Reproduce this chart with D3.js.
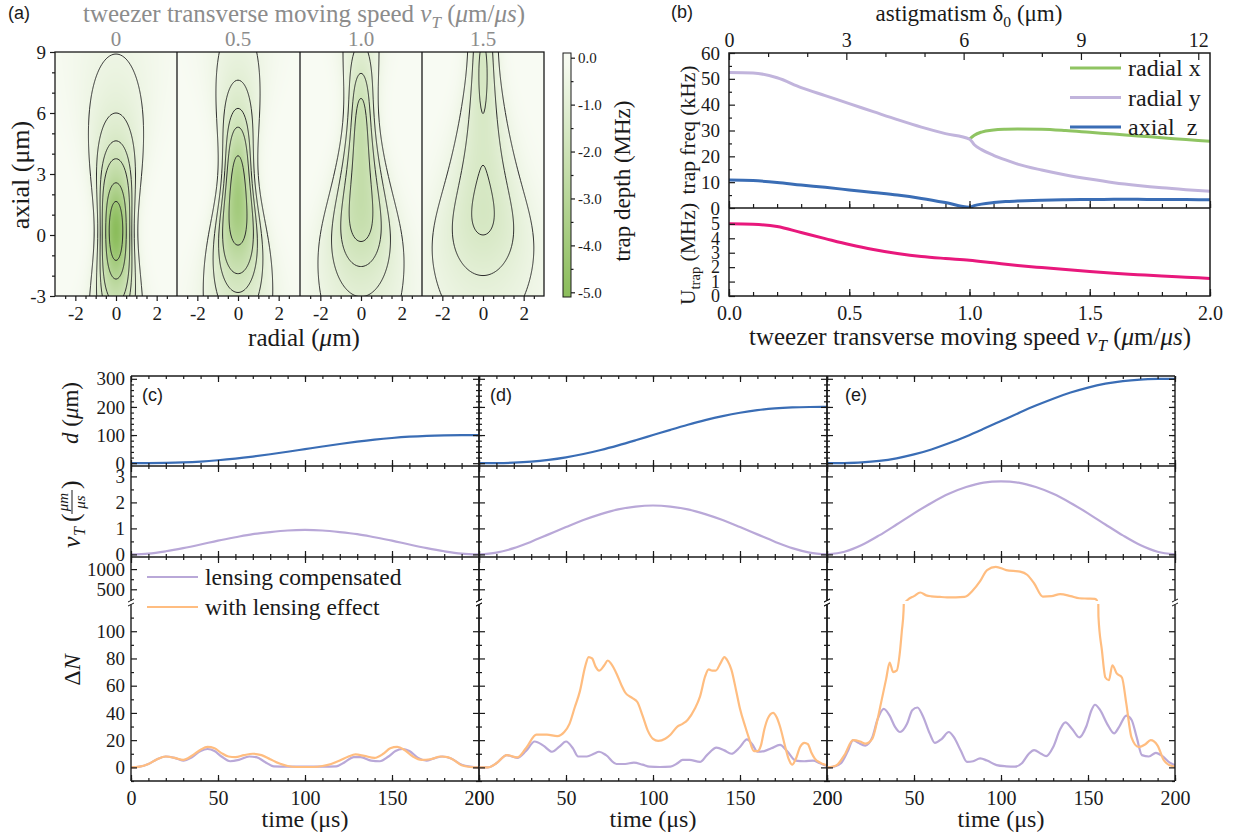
<!DOCTYPE html>
<html>
<head>
<meta charset="utf-8">
<title>moving tweezer trap</title>
<script src="https://cdn.jsdelivr.net/npm/d3@7/dist/d3.min.js"></script>
<style>
  body { margin: 0; background: #fff; }
  svg { display: block; }
</style>
</head>
<body>
<svg id="fig" width="1242" height="837"></svg>
<script>
// ---------------- data ----------------
// (a) trap depth maps, one per tweezer speed
const speedLabels = ["0", "0.5", "1.0", "1.5"];
const astigmatism = [0, 3, 6, 9];          // focus separation (um)
const lowerFocus = [0.2, 0.2, 0.2, 0.2];   // z of lower focus (um)
const peakDepth = 5.0;                      // MHz
const waist = 1.0, rayleigh = 2.9;          // um
const contourLevels = [0.5, 1, 1.5, 2, 3, 4];
const depthTicks = [0, -1, -2, -3, -4, -5];

// (b) trap frequencies and depth vs speed
const vB = [0, .1, .2, .3, .4, .5, .6, .7, .8, .9, 1.0, 1.02, 1.05, 1.1, 1.15, 1.2, 1.3, 1.4, 1.5, 1.6, 1.7, 1.8, 1.9, 2.0];
const radialY = [52.5, 52.3, 50.4, 46.6, 43.5, 40.4, 37.3, 34.2, 31.3, 28.8, 26.7, 24.5, 22.6, 20.4, 18.6, 17.0, 14.7, 12.8, 11.2, 9.8, 8.7, 7.8, 7.1, 6.5];
const axialZ = [10.8, 10.6, 9.9, 8.9, 8.0, 7.0, 6.0, 5.0, 3.7, 2.1, 0.3, 0.9, 1.5, 2.1, 2.5, 2.7, 3.0, 3.2, 3.3, 3.35, 3.35, 3.3, 3.25, 3.2];
const vSplit = [1.0, 1.02, 1.05, 1.1, 1.15, 1.2, 1.3, 1.4, 1.5, 1.6, 1.7, 1.8, 1.9, 2.0];
const radialX = [26.7, 28.2, 29.4, 30.2, 30.5, 30.6, 30.5, 30.0, 29.3, 28.6, 27.9, 27.2, 26.5, 25.8];
const vU = [0, .1, .2, .3, .4, .5, .6, .7, .8, .9, 1.0, 1.1, 1.2, 1.3, 1.4, 1.5, 1.6, 1.7, 1.8, 1.9, 2.0];
const uTrap = [5.0, 4.97, 4.82, 4.4, 3.98, 3.57, 3.22, 2.95, 2.74, 2.6, 2.48, 2.3, 2.12, 1.97, 1.83, 1.7, 1.58, 1.48, 1.38, 1.3, 1.22];

// (c)-(e) transport: time grid, displacement, speed
const tMove = [0, 10, 20, 30, 40, 50, 60, 70, 80, 90, 100, 110, 120, 130, 140, 150, 160, 170, 180, 190, 200];
const dispC = [0, 0.1, 0.9, 2.7, 5.8, 10.4, 16.3, 23.5, 31.7, 40.7, 50, 59.3, 68.3, 76.5, 83.7, 89.6, 94.2, 97.3, 99.1, 99.9, 100];
const dispD = [0, 0.2, 1.7, 5.3, 11.6, 20.7, 32.6, 47.0, 63.5, 81.4, 100, 118.6, 136.5, 153.0, 167.4, 179.3, 188.4, 194.7, 198.3, 199.8, 200];
const dispE = [0, 0.3, 2.6, 8.0, 17.4, 31.1, 48.9, 70.6, 95.2, 122.1, 150, 177.9, 204.8, 229.4, 251.1, 268.9, 282.6, 292.0, 297.4, 299.7, 300];
const speedC = [0, 0.03, 0.12, 0.24, 0.38, 0.53, 0.66, 0.78, 0.86, 0.92, 0.94, 0.92, 0.86, 0.78, 0.66, 0.53, 0.38, 0.24, 0.12, 0.03, 0];
const speedD = [0, 0.07, 0.24, 0.49, 0.77, 1.05, 1.32, 1.55, 1.73, 1.84, 1.88, 1.84, 1.73, 1.55, 1.32, 1.05, 0.77, 0.49, 0.24, 0.07, 0];
const speedE = [0, 0.10, 0.36, 0.73, 1.15, 1.58, 1.98, 2.33, 2.59, 2.76, 2.81, 2.76, 2.59, 2.33, 1.98, 1.58, 1.15, 0.73, 0.36, 0.10, 0];

// heating dN: [time, value]
const compC = [[0,0],[5,0.5],[10,2.5],[15,6],[20,8],[25,7],[30,5],[35,7.5],[40,12],[44,13.5],[48,12],[52,8],[57,4.5],[62,5.5],[68,8],[72,7.5],[77,4],[82,0.8],[90,0.5],[100,0.5],[110,0.5],[118,0.8],[123,4],[128,7.5],[132,7.5],[138,5],[143,4.5],[148,8],[152,12],[156,13.5],[160,12],[165,7],[170,5],[175,7],[179,8],[184,6.5],[190,2],[195,0.5],[200,0]];
const lensC = [[0,0],[5,0.5],[10,2.5],[15,6],[20,8],[25,7],[30,5.5],[35,8.5],[40,13],[44,15],[48,14],[52,10.5],[56,8],[60,7.5],[65,9],[70,10],[75,9],[80,6],[85,3],[90,1],[95,0.3],[100,0.3],[105,0.3],[110,1],[115,2.5],[120,5],[125,8],[129,9.5],[134,8.5],[140,7],[145,10],[149,14],[153,15],[157,13],[162,8],[167,5.5],[172,6],[178,8],[182,7.5],[186,5],[190,1.5],[195,0.3],[200,0]];
const compD = [[0,0],[5,0],[10,3],[16,9],[22,7],[27,12],[32,19],[37,16],[42,11.5],[46,15],[50,19],[54,14],[57,8],[62,8],[66,10],[69,11.5],[73,9],[79,2.5],[84,2.5],[89,3.5],[94,2],[98,0.5],[104,0.3],[110,0.5],[114,3],[117,5.5],[121,5.5],[127,4],[131,9],[136.5,14.5],[141,12.5],[145,10],[150,15],[154,20.5],[157,17],[160,11.5],[164,12],[168,14],[173,16.5],[177,12],[182,5],[187,4.5],[192,5],[196,3],[200,1]];
const lensD = [[0,0],[5,0],[10,3],[16,9],[22,7.3],[27,14],[33,24],[39,24],[45,23],[49,26],[52,32],[55,44],[58,56],[61,74],[63,81],[65,80],[67,74],[69,71],[72,75],[74,78.5],[76,76],[79,69],[82,60],[84,55],[88,51],[91,48],[94,38],[97,27],[100,21],[103,19.5],[107,21],[110,24],[114,30],[117,32],[120,35],[124,43],[127,52],[130,67],[132,72],[134,71],[136,71],[139,77],[141,81],[143,78],[145,72],[148,55],[150,43],[153,30],[155,22],[158,12],[160,12],[162,16],[164,28],[166,36],[169,40],[171,37],[173,30],[176,15],[178,6],[180,2],[182,6],[184.5,15],[187,18],[189,17],[191,11],[193,6.5],[196,3.5],[200,1.5]];
const compE = [[0,0],[4,0.5],[8,3],[12,12],[15,20],[18,18],[22,16],[26,22],[29,35],[32.6,43],[36,38],[39,30],[42,26],[46,32],[49,42],[52,44],[55,38],[59,25],[62,18],[66,21],[70,26],[73,22],[77,12],[80.5,4],[84,4.5],[88,6.6],[92,5],[97.5,1.7],[103,0.8],[108,0.5],[112,3],[116,10],[119,12.7],[123,10],[126,8.3],[130,15],[134,28],[137,33],[141,28],[145,22],[149,30],[152,42],[154,46],[157,42],[161,32],[165,25],[168,30],[172,38],[175,35],[178,22],[181,9],[185,8],[189,10.7],[193,8],[197,3.5],[200,1.7]];
const lensE = [[0,0],[3,0.5],[6,2],[10,9],[15,20],[19,19],[22,17.5],[26,21],[29,35],[31,47],[34,65],[36,77],[38,70],[40,71],[42,86],[43,100],[44,115],[45,180],[47,262],[50,330],[53.6,421],[57,350],[60,325],[65,310],[69,302],[74,300],[79,310],[84,480],[88,700],[92,976],[97,1056],[103,976],[111,937],[115,860],[119,650],[124,320],[129,330],[134,381],[140,330],[145,278],[150,270],[154,262],[155,230],[156,111],[158,86],[160,66],[162,64],[164,75],[166.5,69],[169.5,66],[172,47],[175,22],[179,15],[183,17],[186,20],[190,16],[193.5,5.4],[197,1.5],[200,0.5]];

// ---------------- helpers ----------------
const serif = '"Liberation Serif","Times New Roman",serif';
const sans = '"Liberation Sans",Arial,sans-serif';
const ink = "#1a1a1a";
const svg = d3.select("#fig");
const defs = svg.append("defs");

function axis(parent, maker, scale, o) {
  const g = parent.append("g").attr("transform", o.at || null);
  if (o.minor) g.append("g").call(maker(scale).tickValues(o.minor).tickSize(o.minorSize).tickFormat(""));
  g.append("g")
    .call(maker(scale).tickValues(o.major).tickSize(o.size)
      .tickPadding(o.pad == null ? 4 : o.pad).tickFormat(o.fmt || (() => "")))
    .attr("font-family", serif).attr("font-size", o.fs || 19);
  g.selectAll(".domain").remove();
  g.selectAll(".tick line").attr("stroke", ink).attr("stroke-width", 1.2);
  g.selectAll(".tick text").attr("fill", ink);
  return g;
}
const plain = d => String(d);

function label(x, y, rot, size, parts, color) {
  const t = svg.append("text")
    .attr("transform", `translate(${x},${y})` + (rot ? ` rotate(${rot})` : ""))
    .attr("text-anchor", "middle").attr("font-family", serif)
    .attr("font-size", size).attr("fill", color || ink);
  parts.forEach(p => {
    const s = t.append("tspan").text(p.t);
    if (p.i) s.attr("font-style", "italic");
    if (p.sub) s.attr("font-size", size * 0.68).attr("dy", size * 0.25);
    if (p.up) s.attr("dy", -size * 0.25);
  });
  return t;
}

// ---------------- (a) trap depth maps ----------------
const aLeft = [55, 177, 300, 422], aW = 122, aTop = 52, aBot = 296;
const yA = d3.scaleLinear().domain([-3, 9]).range([aBot, aTop]);
const depthColor = d3.scaleLinear().domain([-5, 0]).range(["#8cbd5c", "#f8fbf3"]).clamp(true);

function trapDepth(x, z, k) {
  const zl = lowerFocus[k], zu = zl + astigmatism[k];
  const a = (z - zu) / rayleigh, b = (z - zl) / rayleigh;
  const amp = peakDepth / Math.sqrt((1 + a * a) * (1 + b * b));
  return amp * Math.exp(-2 * x * x / (waist * waist * (1 + a * a)));
}

const gA = svg.append("g");
aLeft.forEach((x0, k) => {
  const xA = d3.scaleLinear().domain([-3, 3]).range([x0, x0 + aW]);
  const ch = aBot - aTop;
  const cv = document.createElement("canvas");
  cv.width = aW; cv.height = ch;
  const ctx = cv.getContext("2d");
  const im = ctx.createImageData(aW, ch);
  for (let j = 0; j < ch; j++) {
    for (let i = 0; i < aW; i++) {
      const c = d3.rgb(depthColor(-trapDepth(xA.invert(x0 + i + 0.5), yA.invert(aTop + j + 0.5), k)));
      const p = 4 * (j * aW + i);
      im.data[p] = c.r; im.data[p + 1] = c.g; im.data[p + 2] = c.b; im.data[p + 3] = 255;
    }
  }
  ctx.putImageData(im, 0, 0);
  gA.append("image").attr("x", x0).attr("y", aTop).attr("width", aW).attr("height", ch)
    .attr("preserveAspectRatio", "none").attr("href", cv.toDataURL());

  // contour lines on a grid a bit larger than the frame, then clipped
  const step = 0.05, gx0 = -3.5, gz0 = 9.5, nx = 141, nz = 261;
  const vals = new Float64Array(nx * nz);
  for (let j = 0; j < nz; j++)
    for (let i = 0; i < nx; i++) vals[j * nx + i] = trapDepth(gx0 + i * step, gz0 - j * step, k);
  const proj = d3.geoTransform({
    point(px, py) { this.stream.point(xA(gx0 + (px - 0.5) * step), yA(gz0 - (py - 0.5) * step)); }
  });
  defs.append("clipPath").attr("id", "clipA" + k)
    .append("rect").attr("x", x0).attr("y", aTop).attr("width", aW).attr("height", ch);
  gA.append("g").attr("clip-path", `url(#clipA${k})`)
    .selectAll("path")
    .data(d3.contours().size([nx, nz]).thresholds(contourLevels)(vals))
    .join("path")
    .attr("d", d3.geoPath(proj))
    .attr("fill", "none").attr("stroke", "#2b2b2b").attr("stroke-width", 1);

  axis(gA, d3.axisBottom, xA, {
    at: `translate(0,${aBot})`, major: [-2, 0, 2], size: 5,
    minor: [-2.5, -1.5, -1, -0.5, 0.5, 1, 1.5, 2.5], minorSize: 3, fmt: plain, pad: 6, fs: 19
  });
  svg.append("text").attr("x", x0 + aW / 2).attr("y", 46).attr("text-anchor", "middle")
    .attr("font-family", serif).attr("font-size", 21).attr("fill", "#8c8c8c").text(speedLabels[k]);
});
// frames
gA.append("rect").attr("x", 55).attr("y", aTop).attr("width", 544 - 55).attr("height", aBot - aTop)
  .attr("fill", "none").attr("stroke", ink).attr("stroke-width", 1.3);
aLeft.slice(1).forEach(x => gA.append("line").attr("x1", x).attr("x2", x).attr("y1", aTop).attr("y2", aBot)
  .attr("stroke", ink).attr("stroke-width", 1.3));
axis(gA, d3.axisLeft, yA, {
  at: "translate(55,0)", major: [-3, 0, 3, 6, 9], size: 5,
  minor: [-2, -1, 1, 2, 4, 5, 7, 8], minorSize: 3, fmt: plain, pad: 4, fs: 19
});

// colorbar
const yCB = d3.scaleLinear().domain([0.1, -5.1]).range([53, 297]);
const grad = defs.append("linearGradient").attr("id", "cbGrad").attr("x1", 0).attr("y1", 0).attr("x2", 0).attr("y2", 1);
d3.range(0, 1.0001, 0.05).forEach(t => grad.append("stop").attr("offset", t)
  .attr("stop-color", depthColor(yCB.invert(53 + t * 244))));
svg.append("rect").attr("x", 563).attr("y", 53).attr("width", 8).attr("height", 244)
  .attr("fill", "url(#cbGrad)").attr("stroke", ink).attr("stroke-width", 1);
axis(svg, d3.axisRight, yCB, {
  at: "translate(571,0)", major: depthTicks, size: 4,
  minor: [-0.5, -1.5, -2.5, -3.5, -4.5], minorSize: 2.5, fmt: d => d.toFixed(1), pad: 3, fs: 15
});

label(29, 175, -90, 26, [{ t: "axial (μm)" }]);
label(304, 346, 0, 25, [{ t: "radial (" }, { t: "μ", i: 1 }, { t: "m)" }]);
label(630, 181, -90, 23, [{ t: "trap depth (MHz)" }]);
label(304, 22, 0, 25, [{ t: "tweezer transverse moving speed " }, { t: "v", i: 1 }, { t: "T", i: 1, sub: 1 },
  { t: " (", up: 1 }, { t: "μ", i: 1 }, { t: "m/" }, { t: "μs", i: 1 }, { t: ")" }], "#8c8c8c");
svg.append("text").attr("x", 8).attr("y", 19).attr("font-family", sans).attr("font-size", 18).attr("fill", ink).text("(a)");

// ---------------- (b) frequencies and depth ----------------
const bL = 729, bR = 1210, bTop = 53, bMid = 208, bBot = 296;
const xB = d3.scaleLinear().domain([0, 2]).range([bL, bR]);
const xAst = d3.scaleLinear().domain([0, 12.3]).range([bL, bR]);
const yBu = d3.scaleLinear().domain([0, 60]).range([bMid, bTop]);
const yBl = d3.scaleLinear().domain([0, 6.1]).range([bBot, bMid]);
const gB = svg.append("g");
defs.append("clipPath").attr("id", "clipBu").append("rect").attr("x", bL).attr("y", bTop - 2).attr("width", bR - bL).attr("height", bMid - bTop + 2);
defs.append("clipPath").attr("id", "clipBl").append("rect").attr("x", bL).attr("y", bMid).attr("width", bR - bL).attr("height", bBot - bMid);

const lineU = d3.line().x(d => xB(d[0])).y(d => yBu(d[1])).curve(d3.curveMonotoneX);
const lineL = d3.line().x(d => xB(d[0])).y(d => yBl(d[1])).curve(d3.curveMonotoneX);
const gBu = gB.append("g").attr("clip-path", "url(#clipBu)");
gBu.append("path").attr("d", lineU(d3.zip(vSplit, radialX))).attr("fill", "none").attr("stroke", "#8fc462").attr("stroke-width", 3);
gBu.append("path").attr("d", lineU(d3.zip(vB, radialY))).attr("fill", "none").attr("stroke", "#c1b4dc").attr("stroke-width", 3);
gBu.append("path").attr("d", lineU(d3.zip(vB, axialZ))).attr("fill", "none").attr("stroke", "#3a6db5").attr("stroke-width", 3);
gB.append("g").attr("clip-path", "url(#clipBl)")
  .append("path").attr("d", lineL(d3.zip(vU, uTrap))).attr("fill", "none").attr("stroke", "#e8187c").attr("stroke-width", 3);

gB.append("rect").attr("x", bL).attr("y", bTop).attr("width", bR - bL).attr("height", bBot - bTop)
  .attr("fill", "none").attr("stroke", ink).attr("stroke-width", 1.5);
gB.append("line").attr("x1", bL).attr("x2", bR).attr("y1", bMid).attr("y2", bMid).attr("stroke", ink).attr("stroke-width", 1.3);

const tenths = d3.range(0, 2.01, 0.1).map(v => +v.toFixed(1));
axis(gB, d3.axisBottom, xB, { at: `translate(0,${bBot})`, major: [0, 0.5, 1, 1.5, 2], size: -7, minor: tenths, minorSize: -4, fmt: d3.format(".1f"), pad: 10, fs: 20 });
axis(gB, d3.axisBottom, xB, { at: `translate(0,${bMid})`, major: [0, 0.5, 1, 1.5, 2], size: -7, minor: tenths, minorSize: -4 });
axis(gB, d3.axisTop, xAst, { at: `translate(0,${bTop})`, major: [0, 3, 6, 9, 12], size: -7, minor: [1, 2, 4, 5, 7, 8, 10, 11], minorSize: -4, fmt: plain, pad: 6, fs: 20 });
axis(gB, d3.axisLeft, yBu, { at: `translate(${bL},0)`, major: [0, 10, 20, 30, 40, 50, 60], size: -6, minor: [5, 15, 25, 35, 45, 55], minorSize: -3, fmt: plain, pad: 9, fs: 19 });
axis(gB, d3.axisLeft, yBl, { at: `translate(${bL},0)`, major: [0, 1, 2, 3, 4, 5], size: -6, fmt: plain, pad: 9, fs: 18 });

// legend
[["radial x", "#8fc462"], ["radial y", "#c1b4dc"], ["axial  z", "#3a6db5"]].forEach((d, i) => {
  const y = 68 + i * 29.5;
  gB.append("line").attr("x1", 1070).attr("x2", 1121).attr("y1", y).attr("y2", y).attr("stroke", d[1]).attr("stroke-width", 3);
  gB.append("text").attr("x", 1128).attr("y", y + 8).attr("font-family", serif).attr("font-size", 24)
    .attr("fill", ink).style("white-space", "pre").text(d[0]);
});

label(969, 21, 0, 23, [{ t: "astigmatism δ" }, { t: "0", sub: 1 }, { t: " (μm)", up: 1 }]);
label(970, 345, 0, 25, [{ t: "tweezer transverse moving speed " }, { t: "v", i: 1 }, { t: "T", i: 1, sub: 1 },
  { t: " (", up: 1 }, { t: "μ", i: 1 }, { t: "m/" }, { t: "μs", i: 1 }, { t: ")" }]);
label(695, 130, -90, 21.5, [{ t: "trap freq (kHz)" }]);
label(695, 254, -90, 21.5, [{ t: "U" }, { t: "trap", sub: 1 }, { t: " (MHz)", up: 1 }]);
svg.append("text").attr("x", 671).attr("y", 18).attr("font-family", sans).attr("font-size", 18).attr("fill", ink).text("(b)");

// ---------------- (c)-(e) transport ----------------
const colW = 348;
const rTop = 376, rV = 466, rN = 557, rBot = 781;
const yD = d3.scaleLinear().domain([-10, 310]).range([rV, rTop]);
const yV = d3.scaleLinear().domain([-0.1, 3.4]).range([rN, rV]);
const yNlo = d3.scaleLinear().domain([-10, 120]).range([rBot, 604]);
const yNhi = d3.scaleLinear().domain([210, 1300]).range([601, rN]);

const panels = [
  { x0: 131, tag: "(c)", tagDx: 11, disp: dispC, speed: speedC, comp: compC, lens: lensC },
  { x0: 479, tag: "(d)", tagDx: 11, disp: dispD, speed: speedD, comp: compD, lens: lensD },
  { x0: 827, tag: "(e)", tagDx: 18, disp: dispE, speed: speedE, comp: compE, lens: lensE }
];
const purple = "#b9a8d8", orange = "#ffbd80", blue = "#3a6db5";
const tMajor = [0, 50, 100, 150, 200], tMinor = d3.range(0, 201, 10);

panels.forEach((p, k) => {
  const xT = d3.scaleLinear().domain([0, 200]).range([p.x0, p.x0 + colW]);
  const g = svg.append("g");
  const id = "cl" + k;
  [["D", rTop, rV], ["V", rV, rN], ["Nh", rN, 601], ["Nl", 604, rBot]].forEach(r =>
    defs.append("clipPath").attr("id", id + r[0]).append("rect")
      .attr("x", p.x0).attr("y", r[1]).attr("width", colW).attr("height", r[2] - r[1]));

  const lnD = d3.line().x(d => xT(d[0])).y(d => yD(d[1])).curve(d3.curveCatmullRom);
  const lnV = d3.line().x(d => xT(d[0])).y(d => yV(d[1])).curve(d3.curveCatmullRom);
  g.append("path").attr("clip-path", `url(#${id}D)`).attr("d", lnD(d3.zip(tMove, p.disp)))
    .attr("fill", "none").attr("stroke", blue).attr("stroke-width", 2.2);
  g.append("path").attr("clip-path", `url(#${id}V)`).attr("d", lnV(d3.zip(tMove, p.speed)))
    .attr("fill", "none").attr("stroke", purple).attr("stroke-width", 2.2);

  [["Nl", yNlo], ["Nh", yNhi]].forEach(([c, ys]) => {
    const ln = d3.line().x(d => xT(d[0])).y(d => ys(d[1])).curve(d3.curveMonotoneX);
    const gc = g.append("g").attr("clip-path", `url(#${id}${c})`);
    gc.append("path").attr("d", ln(p.comp)).attr("fill", "none").attr("stroke", purple).attr("stroke-width", 2.2);
    gc.append("path").attr("d", ln(p.lens)).attr("fill", "none").attr("stroke", orange).attr("stroke-width", 2.2);
  });

  // ticks on every row edge, pointing inward
  [[rTop, d3.axisTop], [rV, d3.axisBottom], [rV, d3.axisTop], [rN, d3.axisBottom], [rN, d3.axisTop]].forEach(([y, m]) =>
    axis(g, m, xT, { at: `translate(0,${y})`, major: tMajor, size: -6, minor: tMinor, minorSize: -3 }));
  axis(g, d3.axisBottom, xT, { at: `translate(0,${rBot})`, major: tMajor, size: -6, minor: tMinor, minorSize: -3, fmt: plain, pad: 10, fs: 20 });

  const lab = k === 0;
  [[p.x0, d3.axisLeft], [p.x0 + colW, d3.axisRight]].forEach(([x, m]) => {
    const left = m === d3.axisLeft;
    const f = lab && left ? plain : null;
    axis(g, m, yD, { at: `translate(${x},0)`, major: [0, 100, 200, 300], size: -6, minor: d3.range(20, 300, 20), minorSize: -3, fmt: f, pad: 6, fs: 19 });
    axis(g, m, yV, { at: `translate(${x},0)`, major: [0, 1, 2, 3], size: -6, minor: [0.5, 1.5, 2.5], minorSize: -3, fmt: f, pad: 6, fs: 19 });
    axis(g, m, yNlo, { at: `translate(${x},0)`, major: [0, 20, 40, 60, 80, 100], size: -6, minor: [-10, 10, 30, 50, 70, 90, 110], minorSize: -3, fmt: f, pad: 6, fs: 19 });
    axis(g, m, yNhi, { at: `translate(${x},0)`, major: [500, 1000], size: -6, minor: [750], minorSize: -3, fmt: f, pad: 6, fs: 19 });
  });

  // frame
  [rTop, rV, rN, rBot].forEach(y => g.append("line").attr("x1", p.x0).attr("x2", p.x0 + colW)
    .attr("y1", y).attr("y2", y).attr("stroke", ink).attr("stroke-width", 1.4));
  [p.x0, p.x0 + colW].forEach(x => {
    g.append("line").attr("x1", x).attr("x2", x).attr("y1", rTop).attr("y2", 600.5).attr("stroke", ink).attr("stroke-width", 1.4);
    g.append("line").attr("x1", x).attr("x2", x).attr("y1", 604.5).attr("y2", rBot).attr("stroke", ink).attr("stroke-width", 1.4);
    [600.5, 604.5].forEach(y => g.append("line").attr("x1", x - 3).attr("x2", x + 3)
      .attr("y1", y + 1.5).attr("y2", y - 1.5).attr("stroke", ink).attr("stroke-width", 1));
  });

  g.append("text").attr("x", p.x0 + p.tagDx).attr("y", 401).attr("font-family", sans)
    .attr("font-size", 18).attr("fill", ink).text(p.tag);
  label(p.x0 + colW / 2, 827, 0, 24, [{ t: "time (μs)" }]);
});

// legend in (c)
[["lensing compensated", purple, 577], ["with lensing effect", orange, 607]].forEach(d => {
  svg.append("line").attr("x1", 147).attr("x2", 198).attr("y1", d[2]).attr("y2", d[2]).attr("stroke", d[1]).attr("stroke-width", 2.2);
  svg.append("text").attr("x", 205).attr("y", d[2] + 8).attr("font-family", serif).attr("font-size", 23.5)
    .attr("fill", ink).text(d[0]);
});

// row labels
label(78, 413, -90, 23, [{ t: "d", i: 1 }, { t: " (" }, { t: "μ", i: 1 }, { t: "m)" }]);
label(80, 670, -90, 24, [{ t: "Δ" }, { t: "N", i: 1 }]);
const vl = svg.append("g").attr("transform", "translate(80,508) rotate(-90)")
  .attr("font-family", serif).attr("fill", ink);
vl.append("text").attr("x", -40).attr("y", 0).attr("font-size", 26).attr("font-style", "italic").text("v");
vl.append("text").attr("x", -28).attr("y", 5).attr("font-size", 16).attr("font-style", "italic").text("T");
vl.append("text").attr("x", -14).attr("y", -1).attr("font-size", 26).text("(");
vl.append("text").attr("x", 6).attr("y", -12).attr("font-size", 15).attr("text-anchor", "middle").attr("font-style", "italic").text("μm");
vl.append("line").attr("x1", -6).attr("x2", 18).attr("y1", -8).attr("y2", -8).attr("stroke", ink).attr("stroke-width", 1);
vl.append("text").attr("x", 6).attr("y", 5).attr("font-size", 15).attr("text-anchor", "middle").attr("font-style", "italic").text("μs");
vl.append("text").attr("x", 19).attr("y", -1).attr("font-size", 26).text(")");
</script>
</body>
</html>
